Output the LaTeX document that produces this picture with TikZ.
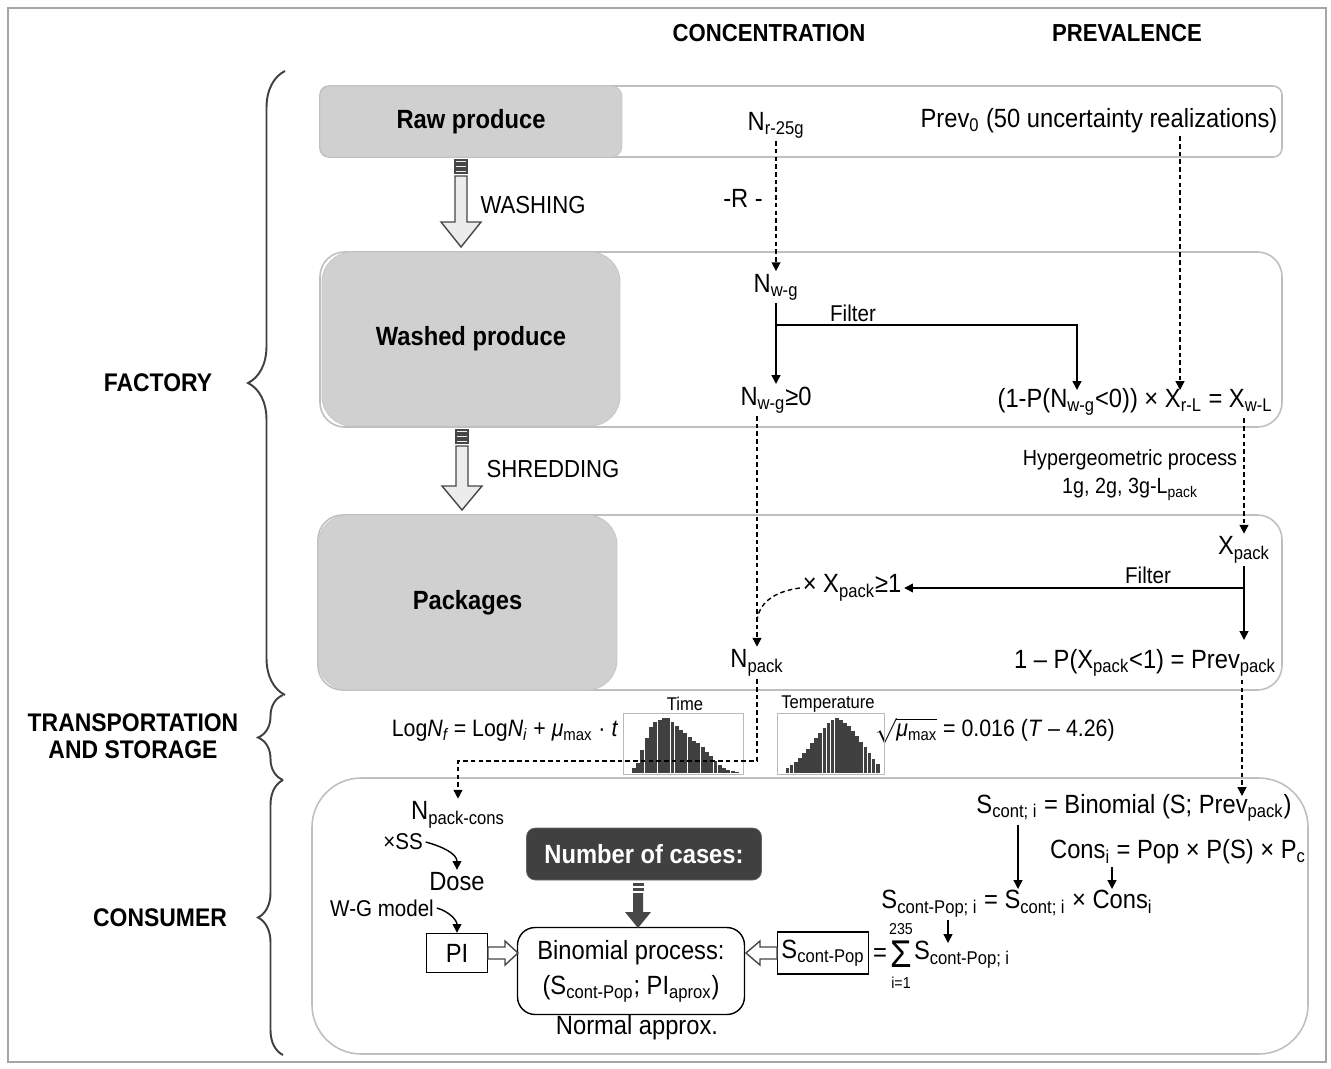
\documentclass[tikz,border=0pt]{standalone}
\usepackage{fontspec}
\setmainfont{Liberation Sans}[FakeStretch=0.9]
\usepackage{amsmath}
\usetikzlibrary{arrows.meta,positioning,decorations.pathreplacing,calc}

\begin{document}
\begin{tikzpicture}[x=0.02cm, y=-0.02cm,
        lane/.style={draw=gray!50, line width=0.9pt},
        stage/.style={fill=gray!37, draw=gray!45, line width=0.5pt,
                      font=\bfseries\fontsize{15}{18}\selectfont},
        hdr/.style={font=\bfseries\fontsize{14}{17}\selectfont},
        zone/.style={font=\bfseries\fontsize{14.5}{15.3}\selectfont, align=center},
        txt/.style={font=\fontsize{15}{18}\selectfont, inner sep=1.5pt},
        sml/.style={font=\fontsize{13}{16}\selectfont, inner sep=1.5pt},
        tny/.style={font=\fontsize{10.5}{12}\selectfont, inner sep=1pt},
        dsh/.style={line width=0.8pt, dash pattern=on 2.6pt off 1.8pt},
        arr/.style={-{Triangle[length=5pt,width=5pt]}},
        sol/.style={line width=0.8pt, arr},
        blk/.style={draw=gray!55!black, fill=gray!15, line width=0.8pt},
        brc/.style={decorate, line width=1.1pt, draw=black!75},
        bar/.style={fill=black!75}
    ]
    \useasboundingbox (0,0) rectangle (1331,1068);
    \draw[gray!70, line width=0.8pt] (8,8) rectangle (1326,1062);

    % stage braces
    \draw[brc, decoration={brace, amplitude=0.74cm}] (285,695) -- (285,71);
    \draw[brc, decoration={brace, amplitude=0.5cm}] (283,780) -- (283,695);
    \draw[brc, decoration={brace, amplitude=0.5cm}] (283,1055) -- (283,780);
    \node[zone] (fac) at (158,383) {FACTORY};
    \node[zone] (trs) at (133,736) {TRANSPORTATION\\AND STORAGE};
    \node[zone] (con) at (160,918) {CONSUMER};

    \node[hdr] (hc) at (769,33) {CONCENTRATION};
    \node[hdr] (hp) at (1127,33) {PREVALENCE};

    % lanes
    \draw[lane, rounded corners=5pt] (320,86) rectangle (1282,157);
    \draw[lane, rounded corners=14pt] (320,252) rectangle (1282,427);
    \draw[lane, rounded corners=14pt] (318,515) rectangle (1282,690);
    \draw[lane, rounded corners=28pt] (312,778) rectangle (1308,1054);

    \node[stage, rounded corners=6pt, minimum width=6.04cm, minimum height=1.42cm] (raw) at (471,121.5) {Raw produce};
    \node[stage, rounded corners=17pt, minimum width=5.96cm, minimum height=3.48cm] (wsh) at (471,339) {Washed produce};
    \node[stage, rounded corners=17pt, minimum width=5.98cm, minimum height=3.5cm] (pkg) at (467.5,602.5) {Packages};

    % process arrows
    \foreach \s in {160,165,170} \draw[blk] (455,\s) rectangle (467,\s+3);
    \draw[blk] (455,176) -- (467,176) -- (467,222) -- (481,222) -- (461,247) -- (441,222) -- (455,222) -- cycle;
    \node[sml, font=\fontsize{14}{16}\selectfont] (wl) at (533,205) {WASHING};
    \foreach \s in {430,435,440} \draw[blk] (456,\s) rectangle (468,\s+3);
    \draw[blk] (456,446) -- (468,446) -- (468,486) -- (482,486) -- (462,510) -- (442,486) -- (456,486) -- cycle;
    \node[sml, font=\fontsize{14}{16}\selectfont] (sl) at (553,469) {SHREDDING};

    % concentration column
    \node[txt] (nr) at (776,125) {N\textsubscript{r-25g}};
    \node[txt] (rr) at (743,198) {-R -};
    \node[txt] (nwg) at (776,287) {N\textsubscript{w-g}};
    \node[txt] (nwg0) at (776,400) {N\textsubscript{w-g}≥0};
    \node[sml] (fl1) at (853,313) {Filter};
    \node[txt] (npk) at (757,663) {N\textsubscript{pack}};
    \node[txt] (xge) at (852,588) {× X\textsubscript{pack}≥1};

    % prevalence column
    \node[txt] (pv0) at (1099,121) {Prev\textsubscript{0} (50 uncertainty realizations)};
    \node[txt] (xwl) at (1135,402) {(1-P(N\textsubscript{w-g}<0)) × X\textsubscript{r-L} = X\textsubscript{w-L}};
    \node[sml, font=\fontsize{12.5}{16}\selectfont, align=center] (hyp) at (1130,475) {Hypergeometric process\\1g, 2g, 3g-L\textsubscript{pack}};
    \node[txt] (xpk) at (1244,550) {X\textsubscript{pack}};
    \node[sml] (fl2) at (1148,575) {Filter};
    \node[txt] (prp) at (1145,663) {1 – P(X\textsubscript{pack}<1) = Prev\textsubscript{pack}};

    \coordinate (fb) at (776,325);
    \coordinate (ft) at (1077,390);
    \coordinate (xrl) at (1180,390);
    \coordinate (xb) at (1244,588);
    \coordinate (pt) at (1244,640);
    \coordinate (jn) at (757,620);
    \coordinate (tb) at (757,761);
    \coordinate (sp) at (1242,796);

    \draw[dsh, arr] (nr) -- (nwg);
    \draw[sol] (nwg) -- (nwg0);
    \draw[sol] (fb) -| (ft);
    \draw[dsh, arr] (pv0.south -| xrl) -- (xrl);
    \draw[dsh, arr] (xwl.south -| xpk) -- (xpk);
    \draw[sol] (xpk) -- (pt);
    \draw[sol] (xb) -- (xge);
    \draw[dsh, arr] (nwg0.south -| npk) -- (npk);
    \draw[dsh] (xge.west) .. controls (778,591) and (760,600) .. (jn);
    \draw[dsh, arr] (prp.south -| sp) -- (sp);

    % transportation and storage
    \node[txt, font=\fontsize{13.5}{17}\selectfont] (lgn) at (505,731) {Log\textit{N\textsubscript{f}} = Log\textit{N\textsubscript{i}} + \textit{μ}\textsubscript{max} · \textit{t}};
    \node[txt, font=\fontsize{13.5}{17}\selectfont] (sqr) at (995,731) {$\sqrt{\text{\itshape μ\upshape\textsubscript{max}}}$ = 0.016 (\textit{T} – 4.26)};
    \draw[gray!55, line width=0.5pt] (623,713) rectangle (743,774);
    \node[tny] (tt) at (685,704) {Time};
    \foreach \h [count=\i] in {0.08,0.18,0.4,0.62,0.8,0.9,0.93,0.96,0.97,0.9,0.82,0.76,0.7,0.63,0.57,0.52,0.45,0.37,0.29,0.21,0.14,0.09,0.05,0.03,0.015}
        \fill[bar] ({627.5+4.3*\i},773) rectangle ({631.4+4.3*\i},{773-57*\h});
    \draw[gray!55, line width=0.5pt] (777,713) rectangle (884,774);
    \node[tny] (tp) at (828,704) {Temperature};
    \foreach \h [count=\i] in {0.08,0.14,0.2,0.27,0.35,0.43,0.52,0.61,0.7,0.79,0.87,0.93,0.96,0.93,0.88,0.82,0.74,0.65,0.55,0.45,0.35,0.25,0.15}
        \fill[bar] ({781.5+4.1*\i},773) rectangle ({785.2+4.1*\i},{773-57*\h});

    % consumer
    \node[txt] (npc) at (458,815) {N\textsubscript{pack-cons}};
    \node[sml] (ss) at (403,842) {×SS};
    \node[txt] (dose) at (457,882) {Dose};
    \node[sml] (wg) at (382,908) {W-G model};
    \node[draw, line width=0.8pt, txt, minimum width=1.22cm, minimum height=0.78cm] (pi) at (457,953) {PI};
    \node[fill=black!75, draw=black!60, rounded corners=5pt, minimum width=4.7cm, minimum height=1.04cm,
          text=white, font=\bfseries\fontsize{15}{18}\selectfont] (noc) at (644,854) {Number of cases:};
    \node[draw, line width=0.8pt, rounded corners=10pt, minimum width=4.54cm, minimum height=1.74cm, align=center,
          font=\fontsize{15}{20}\selectfont] (bin) at (631,971) {Binomial process:\\(S\textsubscript{cont-Pop}; PI\textsubscript{aprox})};
    \node[txt] (nap) at (637,1028) {Normal approx.};
    \node[draw, line width=0.8pt, txt, minimum width=1.82cm, minimum height=0.84cm, inner sep=0pt] (scp) at (823,953) {S\textsubscript{cont-Pop}};
    \node[txt] (eqs) at (880,955) {=};
    \node[font=\fontsize{22}{22}\selectfont, inner sep=0pt] (sig) at (901,954) {Σ};
    \node[tny, font=\fontsize{9}{10}\selectfont] (sig-hi) at (901,929) {235};
    \node[tny, font=\fontsize{9}{10}\selectfont] (sig-lo) at (901,983) {i=1};
    \node[txt, anchor=west] (sum) at (911,955) {S\textsubscript{cont-Pop; i}};
    \node[txt] (sci) at (1134,808) {S\textsubscript{cont; i} = Binomial (S; Prev\textsubscript{pack})};
    \node[txt] (cns) at (1178,852) {Cons\textsubscript{i} = Pop × P(S) × P\textsubscript{c}};
    \node[txt] (scpi) at (1017,904) {S\textsubscript{cont-Pop; i} = S\textsubscript{cont; i} × Cons\textsubscript{i}};

    \coordinate (a1) at (1018,889);
    \coordinate (a2) at (1112,889);
    \coordinate (a3) at (948,943);

    \draw[dsh, arr] (npk.south -| tb) -- (tb) -| (npc.north);
    \draw[sol] (ss.east) to[out=-15, in=90] (dose.north);
    \draw[sol] (wg.east) to[out=-15, in=90] (pi.north);
    \draw[sol] (sci.south -| a1) -- (a1);
    \draw[sol] (cns.south -| a2) -- (a2);
    \draw[sol] (scpi.south -| a3) -- (a3);

    % block arrows into the binomial process
    \foreach \s in {883,888} \draw[fill=black!72, draw=black!72] (633,\s) rectangle (643,\s+2.5);
    \fill[black!72] (633,893) -- (643,893) -- (643,912) -- (651,912) -- (638,928) -- (625,912) -- (633,912) -- cycle;
    \draw[blk, fill=white] (488,947) -- (505,947) -- (505,941) -- (518,953) -- (505,965) -- (505,959) -- (488,959) -- cycle;
    \draw[blk, fill=white] (777,947) -- (760,947) -- (760,941) -- (746,953) -- (760,965) -- (760,959) -- (777,959) -- cycle;
\end{tikzpicture}
\end{document}
